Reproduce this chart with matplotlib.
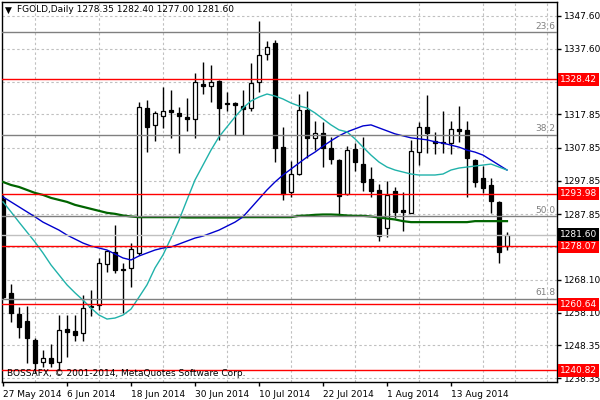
import numpy as np
import pandas as pd
import matplotlib
matplotlib.use("Agg")
import matplotlib.pyplot as plt
from matplotlib.transforms import blended_transform_factory

# Daily candles, FGOLD, 27 May 2014 .. 22 Aug 2014
opens = [1292.4, 1264.0, 1257.6, 1255.6, 1249.9, 1243.4, 1244.4, 1243.4, 1253.2, 1252.6,
         1251.9, 1259.7, 1260.4, 1272.7, 1276.3, 1271.3, 1271.5, 1276.1, 1319.7, 1314.7,
         1317.5, 1319.3, 1318.2, 1317.2, 1316.4, 1327.0, 1326.5, 1328.0, 1321.2, 1321.4,
         1320.4, 1319.9, 1327.7, 1336.0, 1339.3, 1308.1, 1294.4, 1299.9, 1319.2, 1310.7,
         1312.2, 1307.6, 1304.1, 1293.8, 1307.4, 1302.9, 1298.4, 1295.1, 1283.7, 1294.8,
         1289.1, 1288.2, 1306.4, 1314.0, 1309.8, 1309.5, 1309.2, 1313.5, 1313.2, 1304.1,
         1298.8, 1296.6, 1291.4, 1278.35]
highs = [1293.5, 1266.8, 1259.9, 1260.1, 1250.4, 1246.9, 1248.6, 1257.4, 1257.4, 1257.4,
         1263.4, 1264.9, 1274.5, 1277.0, 1284.5, 1273.0, 1279.0, 1321.7, 1322.2, 1318.9,
         1326.2, 1325.2, 1320.0, 1322.7, 1330.2, 1333.7, 1332.7, 1328.3, 1324.5, 1321.7,
         1325.2, 1333.2, 1346.1, 1340.0, 1340.3, 1314.2, 1303.8, 1324.0, 1325.0, 1315.9,
         1315.7, 1311.1, 1304.5, 1308.4, 1309.2, 1311.1, 1302.1, 1296.9, 1297.8, 1296.1,
         1294.4, 1310.1, 1315.7, 1323.7, 1312.6, 1319.0, 1315.9, 1320.4, 1315.9, 1304.4,
         1302.3, 1298.6, 1291.8, 1282.40]
lows = [1262.3, 1255.4, 1250.6, 1242.9, 1240.0, 1241.9, 1241.9, 1240.8, 1244.9, 1249.5,
        1249.5, 1257.2, 1258.9, 1270.5, 1270.0, 1257.9, 1265.9, 1275.5, 1306.6, 1309.9,
        1313.7, 1310.7, 1306.3, 1312.9, 1310.7, 1324.0, 1321.7, 1310.1, 1318.9, 1311.7,
        1311.7, 1318.9, 1324.7, 1334.3, 1303.6, 1292.1, 1293.1, 1299.6, 1304.6, 1307.1,
        1302.1, 1302.9, 1287.6, 1293.6, 1300.9, 1294.9, 1293.1, 1279.8, 1280.8, 1286.6,
        1282.8, 1288.1, 1302.6, 1306.3, 1305.9, 1306.3, 1305.9, 1309.6, 1293.1, 1296.1,
        1294.1, 1288.3, 1273.2, 1277.00]
closes = [1262.9, 1257.9, 1253.9, 1250.4, 1242.9, 1244.4, 1243.1, 1252.9, 1252.4, 1251.4,
          1259.4, 1260.2, 1273.0, 1276.7, 1271.0, 1271.1, 1277.2, 1320.0, 1314.2, 1318.2,
          1318.9, 1318.7, 1317.5, 1316.4, 1327.5, 1326.5, 1327.5, 1319.9, 1320.9, 1320.6,
          1319.6, 1327.2, 1335.8, 1338.3, 1307.6, 1293.9, 1299.9, 1319.2, 1310.7, 1312.4,
          1307.6, 1304.3, 1293.4, 1307.1, 1303.6, 1297.4, 1294.9, 1281.2, 1293.6, 1288.5,
          1288.4, 1306.8, 1314.0, 1312.4, 1309.2, 1309.2, 1313.5, 1312.9, 1304.8, 1297.6,
          1295.6, 1291.9, 1276.5, 1281.60]

# Moving averages as drawn (fast / medium / slow)
ma_fast = [1291.5, 1288.5, 1285.4, 1282.4, 1279.4, 1276.1, 1272.5, 1269.5, 1266.5, 1264.1,
           1261.9, 1259.5, 1257.4, 1256.2, 1256.5, 1257.4, 1259.2, 1262.8, 1266.5, 1271.6,
           1275.5, 1280.6, 1286.0, 1292.1, 1298.1, 1302.6, 1307.1, 1311.1, 1314.1, 1317.1,
           1319.8, 1321.9, 1323.1, 1324.0, 1323.4, 1322.5, 1321.3, 1320.4, 1319.8, 1318.3,
           1316.5, 1314.7, 1313.2, 1312.6, 1310.5, 1308.0, 1305.6, 1303.5, 1302.0, 1301.1,
           1300.5, 1299.9, 1299.6, 1299.6, 1299.6, 1299.9, 1301.1, 1301.7, 1302.0, 1302.3,
           1302.6, 1302.9, 1302.0, 1301.1]
ma_mid = [1293.0, 1291.5, 1290.0, 1288.5, 1287.0, 1285.4, 1284.2, 1283.0, 1281.5, 1280.3,
          1279.1, 1278.2, 1277.6, 1277.0, 1275.8, 1274.6, 1274.0, 1275.2, 1276.1, 1277.0,
          1277.6, 1277.9, 1278.8, 1279.7, 1280.6, 1281.2, 1282.1, 1283.0, 1284.2, 1285.4,
          1287.0, 1289.7, 1292.4, 1295.1, 1297.5, 1299.6, 1301.4, 1303.2, 1305.0, 1306.5,
          1308.3, 1309.9, 1311.4, 1312.6, 1313.5, 1314.4, 1314.7, 1313.8, 1312.9, 1312.0,
          1311.4, 1310.8, 1310.5, 1310.2, 1309.6, 1309.2, 1308.6, 1308.0, 1307.1, 1306.5,
          1305.6, 1304.1, 1302.6, 1301.1]
ma_slow = [1297.5, 1296.6, 1296.0, 1295.1, 1294.2, 1293.6, 1292.7, 1292.1, 1291.5, 1290.6,
           1290.0, 1289.4, 1288.8, 1288.2, 1287.9, 1287.4, 1287.1, 1286.9, 1286.9, 1286.9,
           1286.9, 1286.9, 1286.9, 1286.8, 1286.8, 1286.8, 1286.8, 1286.8, 1286.8, 1286.8,
           1286.9, 1286.9, 1286.9, 1286.9, 1286.9, 1286.9, 1286.9, 1287.3, 1287.4, 1287.6,
           1287.7, 1287.7, 1287.6, 1287.4, 1287.3, 1287.3, 1287.1, 1286.8, 1286.5, 1286.2,
           1285.7, 1285.4, 1285.4, 1285.4, 1285.4, 1285.4, 1285.4, 1285.4, 1285.4, 1285.7,
           1285.7, 1285.7, 1285.7, 1285.7]

# Horizontal support / resistance lines and Fibonacci levels
level_prices = [1328.42, 1293.98, 1278.07, 1260.64, 1240.82]
fib_names = ["23.6", "38.2", "50.0", "61.8"]
fib_prices = [1342.6, 1311.8, 1287.1, 1262.3]
bid_price = 1281.60

# Price axis grid and labels (hidden ones sit under the red price boxes)
y_ticks = [1347.60, 1337.60, 1327.73, 1317.85, 1307.85, 1297.85, 1287.85, 1277.98,
           1268.10, 1258.10, 1248.35, 1238.35]
y_labels = ["1347.60", "1337.60", "", "1317.85", "1307.85", "1297.85", "1287.85", "",
            "1268.10", "1258.10", "1248.35", "1238.35"]

dates = pd.bdate_range("2014-05-27", "2014-08-22")

plt.rcParams["font.family"] = ["DejaVu Sans"]
plt.rcParams["font.size"] = 6

fig = plt.figure(figsize=(6, 4), dpi=100)
ax = fig.add_axes([2 / 600, 18 / 400, 555 / 600, 380 / 400])

o = np.array(opens)
h = np.array(highs)
l = np.array(lows)
c = np.array(closes)
x = np.arange(len(c))
up = c >= o

# Candles: wicks then bodies
ax.vlines(x, l, h, color="black", lw=1, zorder=3)
ax.bar(x, np.abs(c - o), bottom=np.minimum(o, c), width=0.55,
       color=np.where(up, "white", "black"), edgecolor="black", lw=0.9, zorder=4)

# Moving averages
ax.plot(x, ma_slow, color="#006400", lw=1.6, zorder=5)
ax.plot(x, ma_mid, color="#0000CD", lw=1, zorder=5)
ax.plot(x, ma_fast, color="#20B2AA", lw=1, zorder=5)

# Lines drawn on the chart
for p in fib_prices:
    ax.axhline(p, color="#808080", lw=1, zorder=6)
for p in level_prices:
    ax.axhline(p, color="red", lw=1, zorder=6)
ax.axhline(bid_price, color="#C0C0C0", lw=1, zorder=6)

blend = blended_transform_factory(ax.transAxes, ax.transData)
for name, p in zip(fib_names, fib_prices):
    ax.text(0.997, p + 0.5, name, transform=blend, ha="right", va="bottom",
            color="#808080", fontsize=6.5, zorder=7)

# Price boxes on the right scale
for p in level_prices:
    ax.text(1.0054, p, f"{p:.2f}", transform=blend, ha="left", va="center",
            color="white", fontsize=6.5, clip_on=False, zorder=10,
            bbox=dict(boxstyle="square,pad=0.22", fc="red", ec="none"))
ax.text(1.0054, bid_price, f"{bid_price:.2f}", transform=blend, ha="left", va="center",
        color="white", fontsize=6.5, clip_on=False, zorder=10,
        bbox=dict(boxstyle="square,pad=0.22", fc="black", ec="none"))

# Axes, ticks, grid
ax.set_xlim(-0.125, 69.25)
ax.set_ylim(1237.23, 1351.73)
ax.yaxis.tick_right()
ax.set_yticks(y_ticks)
ax.set_yticklabels(y_labels)
ax.tick_params(axis="y", length=3, width=1, pad=2, labelsize=6.5, colors="black")
xt = x[::8]
ax.set_xticks(xt)
ax.set_xticklabels([f"{d.day} {d.strftime('%b %Y')}" for d in dates[::8]], ha="left")
ax.tick_params(axis="x", length=3, width=1, pad=3, labelsize=6.5)
ax.set_xticks(np.arange(0, 70, 4), minor=True)
ax.tick_params(axis="x", which="minor", length=0)
ax.grid(True, which="minor", axis="x", color="#C0C0C0", lw=0.8, linestyle=(0, (2.2, 2.2)))
ax.grid(True, which="major", axis="y", color="#C0C0C0", lw=0.8, linestyle=(0, (2.2, 2.2)))
ax.set_axisbelow(True)
for s in ax.spines.values():
    s.set_color("black")
    s.set_linewidth(1)

# Header and copyright
fig.text(5 / 600, 1 - 10 / 400, "\u25bc", fontsize=6.5, va="center", ha="left")
fig.text(17 / 600, 1 - 10 / 400,
         f"FGOLD,Daily {opens[-1]:.2f} {highs[-1]:.2f} {lows[-1]:.2f} {closes[-1]:.2f}",
         fontsize=6.5, va="center", ha="left")
fig.text(7 / 600, 1 - 374 / 400, "BOSSAFX, \u00a9 2001-2014, MetaQuotes Software Corp.",
         fontsize=6.5, va="center", ha="left")

fig.savefig("out.png", dpi=100)
